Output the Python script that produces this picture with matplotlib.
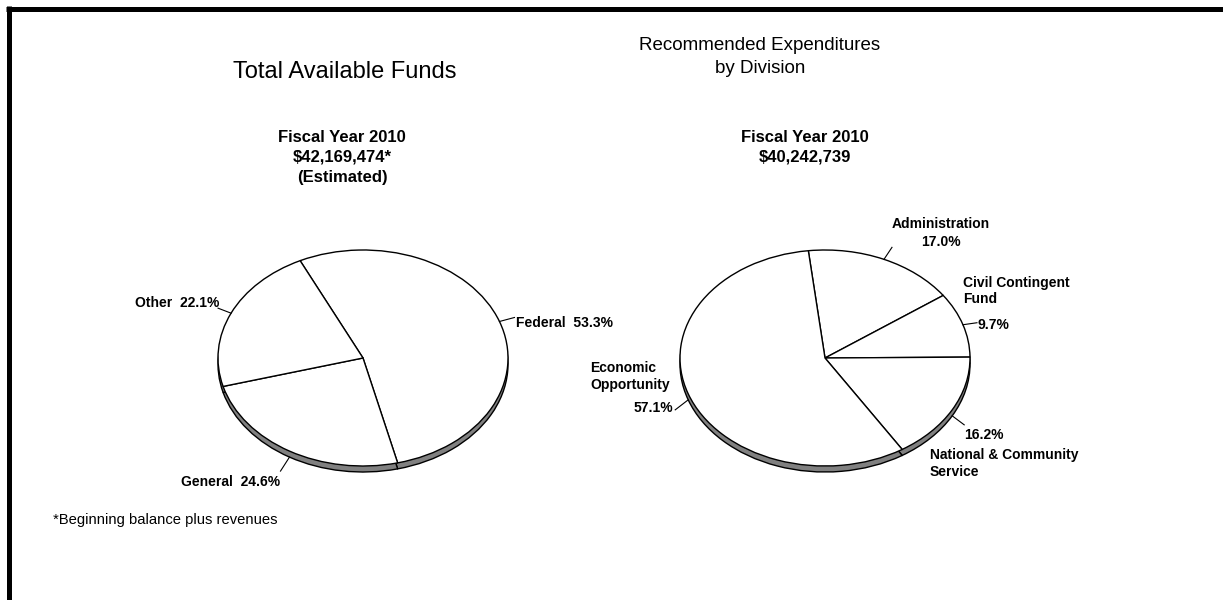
import numpy as np
import matplotlib
matplotlib.use("Agg")
import matplotlib.pyplot as plt
from matplotlib.lines import Line2D

plt.rcParams['font.family'] = ['Liberation Sans', 'DejaVu Sans']

# ---------------- data ----------------
funds_labels = ['Federal', 'General', 'Other']
funds_pct = [53.3, 24.6, 22.1]
funds_title = 'Total Available Funds'
funds_sub = ['Fiscal Year 2010', '$42,169,474*', '(Estimated)']

exp_labels = ['Administration', 'Civil Contingent\nFund',
              'National & Community\nService', 'Economic\nOpportunity']
exp_pct = [17.0, 9.7, 16.2, 57.1]
exp_title = 'Recommended Expenditures\nby Division'
exp_sub = ['Fiscal Year 2010', '$40,242,739']

footnote = '*Beginning balance plus revenues'

# ---------------- layout ----------------
W, H = 1223, 600
fig = plt.figure(figsize=(W / 100, H / 100), dpi=100)
fig.patch.set_facecolor('white')

A, B, RIM = 145, 108, 6   # ellipse half-axes and rim thickness (px)


def pie_axes(cx, cy):
    ax = fig.add_axes([(cx - A) / W, (H - (cy + B)) / H, 2 * A / W, 2 * B / H])
    return ax


def draw_pie(cx, cy, values, start):
    ax = pie_axes(cx, cy)
    wp_rim = dict(edgecolor='black', linewidth=1.0)
    rim, _ = ax.pie(values, startangle=start, counterclock=False,
                    center=(0, -RIM / B), radius=1, wedgeprops=wp_rim,
                    colors=['#808080'] * len(values))
    wp = dict(edgecolor='black', linewidth=1.0)
    top, _ = ax.pie(values, startangle=start, counterclock=False,
                    center=(0, 0), radius=1, wedgeprops=wp,
                    colors=['white'] * len(values))
    ax.set_aspect('auto')
    ax.set_xlim(-1, 1)
    ax.set_ylim(-1, 1)
    ax.axis('off')
    for w in list(rim) + list(top):
        w.set_clip_on(False)
    # leader start points (pixel coords) at mid angle of each wedge
    pts = []
    for w in top:
        t = np.deg2rad((w.theta1 + w.theta2) / 2)
        s = np.sin(t)
        pts.append((cx + A * np.cos(t), cy - B * s + (RIM if s < 0 else 0)))
    return pts


C1 = (363, 358)
C2 = (825, 358)
pts1 = draw_pie(*C1, funds_pct, 115.7)
pts2 = draw_pie(*C2, exp_pct, 96.6)

# overlay axes in pixel coordinates
ov = fig.add_axes([0, 0, 1, 1], zorder=5)
ov.set_xlim(0, W)
ov.set_ylim(H, 0)
ov.axis('off')

# frame
ov.add_line(Line2D([8.5, 8.5], [6, H + 5], color='black', lw=3.6, solid_capstyle='butt'))
ov.add_line(Line2D([6, W + 5], [8.5, 8.5], color='black', lw=3.6, solid_capstyle='butt'))


def leader(p, d):
    ov.add_line(Line2D([p[0], p[0] + d[0]], [p[1], p[1] + d[1]], color='black', lw=0.8))


LB = dict(fontsize=10, fontweight='bold', color='black')

# ---- pie 1 labels ----
leader(pts1[0], (15, -4))
ov.text(516, 323, f'{funds_labels[0]}  {funds_pct[0]:.1f}%', ha='left', va='center', **LB)
leader(pts1[1], (-9, 14))
ov.text(231, 482, f'{funds_labels[1]}  {funds_pct[1]:.1f}%', ha='center', va='center', **LB)
leader(pts1[2], (-13, -5))
ov.text(219, 303, f'{funds_labels[2]}  {funds_pct[2]:.1f}%', ha='right', va='center', **LB)

# ---- pie 2 labels ----
leader(pts2[0], (8, -12))
ov.text(941, 233, f'{exp_labels[0]}\n{exp_pct[0]:.1f}%', ha='center', va='center',
        linespacing=1.31, **LB)
leader(pts2[1], (14, -2))
ov.text(963, 291, exp_labels[1], ha='left', va='center', linespacing=1.17, **LB)
ov.text(977, 325, f'{exp_pct[1]:.1f}%', ha='left', va='center', **LB)
leader(pts2[2], (12, 9))
ov.text(964, 435, f'{exp_pct[2]:.1f}%', ha='left', va='center', **LB)
ov.text(930, 463.5, exp_labels[2], ha='left', va='center', linespacing=1.24, **LB)
leader(pts2[3], (-13, 10))
ov.text(590, 376.5, exp_labels[3], ha='left', va='center', linespacing=1.24, **LB)
ov.text(673, 408, f'{exp_pct[3]:.1f}%', ha='right', va='center', **LB)

# ---- titles ----
ov.text(344.5, 72, funds_title, ha='center', va='center', fontsize=17)
ov.text(342, 157.5, '\n'.join(funds_sub), ha='center', va='center', fontsize=12,
        fontweight='bold', linespacing=1.4)
ov.text(760, 57, exp_title, ha='center', va='center', fontsize=13.5, linespacing=1.42)
ov.text(805, 147.5, '\n'.join(exp_sub), ha='center', va='center', fontsize=12,
        fontweight='bold', linespacing=1.4)

ov.text(53, 520, footnote, ha='left', va='center', fontsize=10.6)

fig.savefig('out.png', dpi=100, facecolor='white')
